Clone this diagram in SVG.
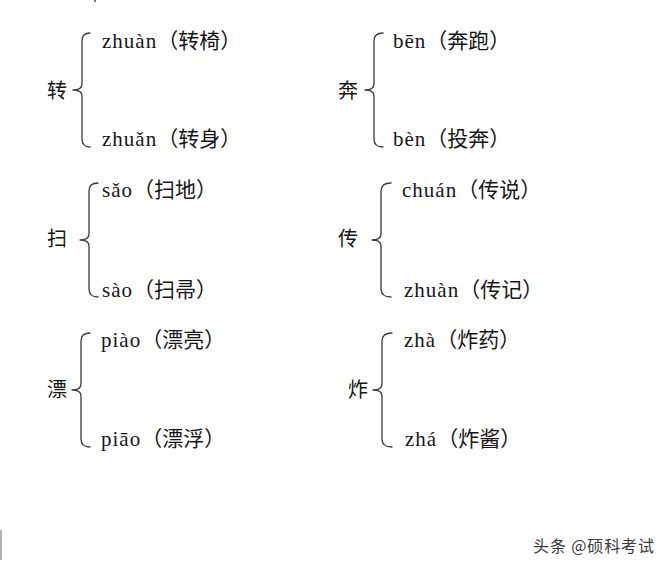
<svg xmlns="http://www.w3.org/2000/svg" width="670" height="571" viewBox="0 0 670 571">
<style>
.t{font-family:"Liberation Serif","Noto Sans CJK SC",serif;font-size:21px;fill:#161616}
.t tspan.p{letter-spacing:1px}
.c{font-family:"Noto Sans CJK SC",sans-serif;font-size:20px;fill:#161616}
.b{fill:none;stroke:#3a3a3a;stroke-width:1.3;stroke-linecap:round;stroke-linejoin:round}
.w{font-family:"Noto Sans CJK SC",sans-serif;font-size:16px;fill:#3a3a3a}
</style>
<rect x="0" y="0" width="670" height="571" fill="#ffffff"/>
<rect x="94" y="0" width="2" height="2" fill="#777"/>
<line x1="1" y1="530" x2="1" y2="560" stroke="#999" stroke-width="1.5"/>
<g id="connectors">
<path class="b" d="M90,33 Q82,33 82,41 L82,84 Q82,90 73,90 Q82,90 82,96 L82,139 Q82,147 90,147"/>
<path class="b" d="M383,33 Q374,33 374,41 L374,84 Q374,90 365,90 Q374,90 374,96 L374,139 Q374,147 383,147"/>
<path class="b" d="M98,183 Q89,183 89,191 L89,234 Q89,240 80,240 Q89,240 89,246 L89,289 Q89,297 98,297"/>
<path class="b" d="M391,183 Q381,183 381,191 L381,234 Q381,240 372,240 Q381,240 381,246 L381,289 Q381,297 391,297"/>
<path class="b" d="M90,333 Q81,333 81,341 L81,384 Q81,390 72,390 Q81,390 81,396 L81,439 Q81,447 90,447"/>
<path class="b" d="M392,333 Q382,333 382,341 L382,384 Q382,390 373,390 Q382,390 382,396 L382,439 Q382,447 392,447"/>
</g>
<g id="zhuan">
<text class="c" x="47" y="98">转</text>
<text class="t" x="102" y="48"><tspan class="p">zhuàn</tspan>（转椅）</text>
<text class="t" x="102" y="146"><tspan class="p">zhuǎn</tspan>（转身）</text>
</g>
<g id="ben">
<text class="c" x="338" y="98">奔</text>
<text class="t" x="393" y="48"><tspan class="p">bēn</tspan>（奔跑）</text>
<text class="t" x="393" y="146"><tspan class="p">bèn</tspan>（投奔）</text>
</g>
<g id="sao">
<text class="c" x="47" y="246">扫</text>
<text class="t" x="102" y="197"><tspan class="p">sǎo</tspan>（扫地）</text>
<text class="t" x="102" y="297"><tspan class="p">sào</tspan>（扫帚）</text>
</g>
<g id="chuan">
<text class="c" x="338" y="246">传</text>
<text class="t" x="402" y="197"><tspan class="p">chuán</tspan>（传说）</text>
<text class="t" x="404" y="297"><tspan class="p">zhuàn</tspan>（传记）</text>
</g>
<g id="piao">
<text class="c" x="47" y="397">漂</text>
<text class="t" x="101" y="347"><tspan class="p">piào</tspan>（漂亮）</text>
<text class="t" x="101" y="446"><tspan class="p">piāo</tspan>（漂浮）</text>
</g>
<g id="zha">
<text class="c" x="348" y="397">炸</text>
<text class="t" x="404" y="347"><tspan class="p">zhà</tspan>（炸药）</text>
<text class="t" x="405" y="446"><tspan class="p">zhá</tspan>（炸酱）</text>
</g>
<g id="watermark">
<text class="w" x="533" y="552" textLength="121">头条 @硕科考试</text>
</g>
</svg>
